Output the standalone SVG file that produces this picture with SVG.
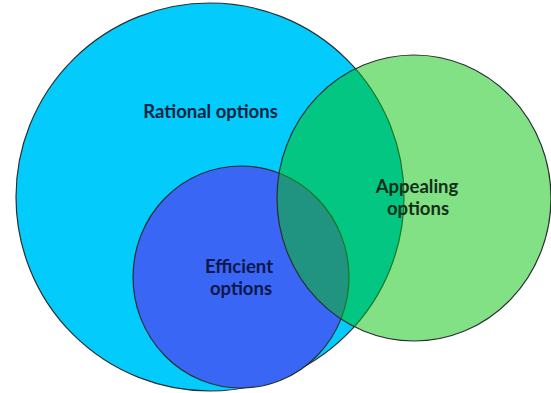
<svg xmlns="http://www.w3.org/2000/svg" width="551" height="393" viewBox="0 0 551 393">
  <style>
    .set { stroke: #2a2f33; stroke-width: 1.2; }
    .label { font-family: Lato, "Open Sans", "Liberation Sans", sans-serif; font-weight: bold; font-size: 18.5px; text-anchor: middle; }
  </style>
  <rect width="551" height="393" fill="#ffffff"/>

  <!-- Outer set -->
  <g id="rational">
    <circle class="set" cx="210" cy="197" r="194" fill="#03cbfb"/>
    <text class="label" x="210.5" y="118" fill="#0c2340">Rational options</text>
  </g>

  <!-- Inner set -->
  <g id="efficient">
    <ellipse class="set" cx="241" cy="277" rx="108" ry="111" fill="#3a66f6"/>
    <text class="label" x="239" y="273" fill="#0d1848">Efficient</text>
    <text class="label" x="241" y="295" fill="#0d1848">options</text>
  </g>

  <!-- Translucent overlapping set -->
  <g id="appealing">
    <ellipse cx="414" cy="198" rx="137" ry="143" fill="#06c20c" fill-opacity="0.5"/>
    <ellipse class="set" cx="414" cy="198" rx="137" ry="143" fill="none"/>
    <text class="label" x="417" y="193" fill="#11301a">Appealing</text>
    <text class="label" x="418" y="215" fill="#11301a">options</text>
  </g>
</svg>
